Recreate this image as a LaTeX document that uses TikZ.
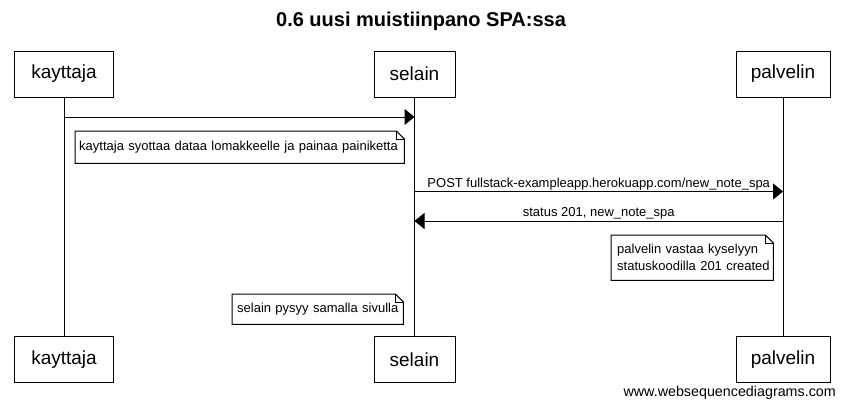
\documentclass[tikz,border=0pt]{standalone}
\usepackage{fontspec}
\setmainfont{Liberation Sans}
\usetikzlibrary{arrows.meta,calc}
\newcommand\mynotedraw[1]{%
  \draw[noteline] (#1.north west) -- ([xshift=-8pt]#1.north east) -- ([yshift=-8pt]#1.north east) -- (#1.south east) -- (#1.south west) -- cycle;
  \draw[noteline] ([xshift=-8pt]#1.north east) |- ([yshift=-8pt]#1.north east);}
\begin{document}
\begin{tikzpicture}[x=1pt,y=-1pt,
  actor/.style={draw, line width=1pt, minimum height=46pt, inner xsep=0pt, inner ysep=0pt, font=\fontsize{19}{22}\selectfont},
  life/.style={line width=1pt},
  msg/.style={line width=1pt, -{Triangle[length=10pt,width=16pt]}},
  lbl/.style={font=\fontsize{13}{15}\selectfont, inner sep=1pt},
  note/.style={anchor=north west, align=left, font=\fontsize{13}{17}\selectfont, inner ysep=0pt},
  noteline/.style={line width=1pt, line join=miter}
]
\useasboundingbox (0,0) rectangle (844,407);
\fill[white] (0,0) rectangle (844,407);
\node[font=\bfseries\fontsize{20}{22}\selectfont, anchor=base] (title) at (421,26.7) {0.6 uusi muistiinpano SPA:ssa};

\node[actor, minimum width=99pt] (kt) at (64,74) {kayttaja};
\node[actor, minimum width=81pt] (st) at (414.5,74) {selain};
\node[actor, minimum width=94pt] (pt) at (783,74) {palvelin};
\node[actor, minimum width=99pt] (kb) at (64,359.5) {kayttaja};
\node[actor, minimum width=81pt] (sb) at (414.5,359.5) {selain};
\node[actor, minimum width=94pt] (pb) at (783,359.5) {palvelin};

\draw[life] (kt.south) -- (kb.north);
\draw[life] (st.south) -- (sb.north);
\draw[life] (pt.south) -- (pb.north);

\coordinate (k1) at (64,117);
\coordinate (s1) at (414.5,117);
\draw[msg] (k1) -- (s1);

\node[note, minimum width=329pt, minimum height=32pt, text width=321pt, inner xsep=4pt] (n1) at (75,131) {\mbox{kayttaja syottaa dataa lomakkeelle ja painaa painiketta}};
\mynotedraw{n1}

\coordinate (s2) at (414.5,191.5);
\coordinate (p2) at (783,191.5);
\draw[msg] (s2) -- node[lbl, above] (l2) {POST fullstack-exampleapp.herokuapp.com/new\_note\_spa} (p2);

\coordinate (p3) at (783,221);
\coordinate (s3) at (414.5,221);
\draw[msg] (p3) -- node[lbl, above] (l3) {status 201, new\_note\_spa} (s3);

\node[note, minimum width=162pt, minimum height=45pt, text width=150pt, inner xsep=6pt] (n2) at (611,235) {\mbox{palvelin vastaa kyselyyn}\\\mbox{statuskoodilla 201 created}};
\mynotedraw{n2}

\node[note, minimum width=171pt, minimum height=30pt, text width=161pt, inner xsep=5pt] (n3) at (232,294) {\mbox{selain pysyy samalla sivulla}};
\mynotedraw{n3}

\node[font=\fontsize{14.3}{16}\selectfont, anchor=base east, inner sep=0pt] (wm) at (836,396) {www.websequencediagrams.com};
\end{tikzpicture}
\end{document}
